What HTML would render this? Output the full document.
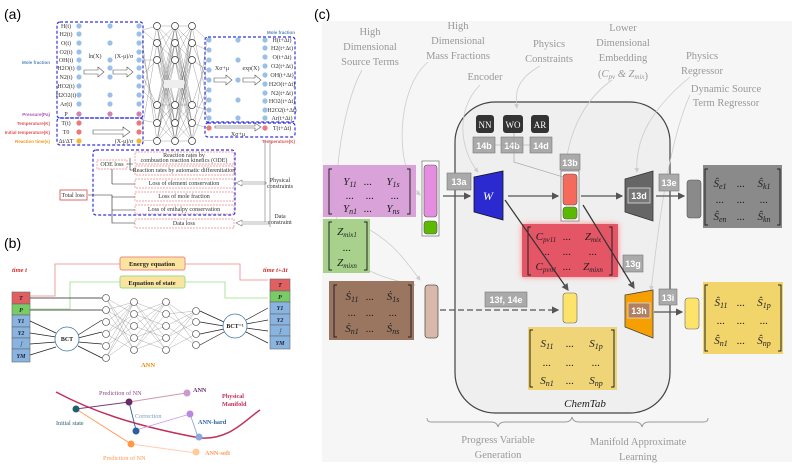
<!DOCTYPE html>
<html><head><meta charset="utf-8"><style>
html,body{margin:0;padding:0;background:#fff;}
svg{display:block;font-family:"Liberation Serif",serif;}
.g{fill:#999;font-size:10.5px;text-anchor:middle;}
.lb{fill:#fff;font-family:"Liberation Sans",sans-serif;font-weight:bold;font-size:9px;text-anchor:middle;}
.m{font-size:11px;font-style:italic;fill:#222;text-anchor:middle;}
.t{font-size:6px;fill:#333;text-anchor:middle;}
</style></head><body>
<svg width="793" height="467" viewBox="0 0 793 467" xmlns="http://www.w3.org/2000/svg">
<defs>
<marker id="ar" markerWidth="6" markerHeight="6" refX="5" refY="3" orient="auto"><path d="M0,0L6,3L0,6z" fill="#555"/></marker>
<marker id="ag" markerWidth="6" markerHeight="6" refX="5" refY="3" orient="auto"><path d="M0,0L6,3L0,6z" fill="#ccc"/></marker>
</defs>
<!-- ================= (a) ================= -->
<text x="4" y="19" font-family="Liberation Sans" font-size="14">(a)</text>
<g fill="none" stroke="#33d" stroke-width="1.2" stroke-dasharray="3,2">
<rect x="57" y="22" width="86" height="96" rx="3"/>
<rect x="57" y="118" width="86" height="27" rx="3"/>
<rect x="205" y="37" width="90" height="85" rx="3"/>
<rect x="205" y="123" width="90" height="14" rx="3"/>
<rect x="93" y="150" width="142" height="65" rx="3"/>
</g>
<g fill="#9bc0e8">
<circle cx="79" cy="26" r="2.6"/><circle cx="79" cy="34" r="2.6"/><circle cx="79" cy="43" r="2.6"/><circle cx="79" cy="52" r="2.6"/><circle cx="79" cy="60" r="2.6"/><circle cx="79" cy="68" r="2.6"/><circle cx="79" cy="77" r="2.6"/><circle cx="79" cy="86" r="2.6"/><circle cx="79" cy="95" r="2.6"/><circle cx="79" cy="104" r="2.6"/>
<circle cx="110" cy="26" r="2.6"/><circle cx="110" cy="43" r="2.6"/><circle cx="110" cy="60" r="2.6"/><circle cx="110" cy="77" r="2.6"/><circle cx="110" cy="95" r="2.6"/><circle cx="110" cy="104" r="2.6"/><circle cx="110" cy="68" r="2.6"/>
<circle cx="139" cy="26" r="2.6"/><circle cx="139" cy="34" r="2.6"/><circle cx="139" cy="43" r="2.6"/><circle cx="139" cy="52" r="2.6"/><circle cx="139" cy="60" r="2.6"/><circle cx="139" cy="68" r="2.6"/><circle cx="139" cy="77" r="2.6"/><circle cx="139" cy="86" r="2.6"/><circle cx="139" cy="95" r="2.6"/><circle cx="139" cy="104" r="2.6"/>
<circle cx="209" cy="40" r="2.6"/><circle cx="209" cy="50" r="2.6"/><circle cx="209" cy="60" r="2.6"/><circle cx="209" cy="70" r="2.6"/><circle cx="209" cy="80" r="2.6"/><circle cx="209" cy="90" r="2.6"/><circle cx="209" cy="100" r="2.6"/><circle cx="209" cy="110" r="2.6"/><circle cx="209" cy="118" r="2.6"/>
<circle cx="238" cy="40" r="2.6"/><circle cx="238" cy="60" r="2.6"/><circle cx="238" cy="80" r="2.6"/><circle cx="238" cy="100" r="2.6"/><circle cx="238" cy="118" r="2.6"/>
<circle cx="265" cy="40" r="2.6"/><circle cx="265" cy="48" r="2.6"/><circle cx="265" cy="57" r="2.6"/><circle cx="265" cy="66" r="2.6"/><circle cx="265" cy="75" r="2.6"/><circle cx="265" cy="84" r="2.6"/><circle cx="265" cy="93" r="2.6"/><circle cx="265" cy="101" r="2.6"/><circle cx="265" cy="110" r="2.6"/><circle cx="265" cy="118" r="2.6"/>
</g>
<g fill="#c8a"><circle cx="79" cy="114" r="2.6"/><circle cx="110" cy="114" r="2.6"/><circle cx="139" cy="114" r="2.6"/></g>
<g fill="#e77"><circle cx="79" cy="123" r="2.6"/><circle cx="79" cy="132" r="2.6"/><circle cx="139" cy="123" r="2.6"/><circle cx="139" cy="132" r="2.6"/><circle cx="209" cy="128" r="2.6"/><circle cx="265" cy="128" r="2.6"/></g>
<g fill="#eb3"><circle cx="79" cy="141" r="2.6"/><circle cx="139" cy="141" r="2.6"/></g>
<g class="t" font-size="5">
<text x="66" y="28">H(t)</text><text x="66" y="36">H2(t)</text><text x="66" y="45">O(t)</text><text x="66" y="54">O2(t)</text><text x="66" y="62">OH(t)</text><text x="66" y="70">H2O(t)</text><text x="66" y="79">N2(t)</text><text x="66" y="88">HO2(t)</text><text x="66" y="97">H2O2(t)</text><text x="66" y="106">Ar(t)</text><text x="66" y="116">P</text><text x="66" y="125">T(t)</text><text x="66" y="134">T0</text><text x="66" y="143">Δt/ΔT</text>
<text x="282" y="42">H(t+Δt)</text><text x="282" y="50">H2(t+Δt)</text><text x="282" y="59">O(t+Δt)</text><text x="282" y="68">O2(t+Δt)</text><text x="282" y="77">OH(t+Δt)</text><text x="282" y="86">H2O(t+Δt)</text><text x="282" y="95">N2(t+Δt)</text><text x="282" y="103">HO2(t+Δt)</text><text x="282" y="112">H2O2(t+Δt)</text><text x="282" y="120">Ar(t+Δt)</text><text x="282" y="130">T(t+Δt)</text>
<text x="95" y="58">ln(X)</text><text x="124" y="58">(X-μ)/σ</text><text x="222" y="70">Xσ+μ</text><text x="251" y="70">exp(X)</text><text x="124" y="143">(X-μ)/σ</text><text x="238" y="136">Xσ+μ</text>
</g>
<g font-size="4.5" font-family="Liberation Sans" font-weight="bold" text-anchor="end">
<text x="50" y="64" fill="#58b">Mole fraction</text><text x="50" y="116" fill="#a5b">Pressure(Pa)</text><text x="50" y="125" fill="#d55">Temperature(K)</text><text x="50" y="134" fill="#d55">Initial temperature(K)</text><text x="50" y="143" fill="#e92">Reaction time(s)</text>
<text x="295" y="34" fill="#58b">Mole fraction</text><text x="295" y="143" fill="#d55">Temperature(K)</text></g>
<g fill="none" stroke="#555" stroke-width="0.6"><path d="M84,70h14v-3l6,5l-6,5v-3h-14z M113,70h14v-3l6,5l-6,5v-3h-14z M93,130h30v-3l7,5l-7,5v-3h-30z M214,78h12v-3l6,5l-6,5v-3h-12z M243,78h12v-3l6,5l-6,5v-3h-12z M215,126h40v-3l6,4l-6,4v-3h-40z"/></g>
<!-- NN mesh -->
<g stroke="#666" stroke-width="0.3">
<path d="M142,30L157,26M142,30L157,43M142,60L157,60M142,90L157,105M142,120L157,123M142,140L157,141M142,50L157,123M142,100L157,26M142,40L157,141M142,130L157,43M142,75L157,60M142,75L157,105"/>
<path d="M157,26L175,43M157,26L175,105M157,43L175,26M157,43L175,141M157,60L175,123M157,105L175,26M157,123L175,60M157,141L175,43M157,60L175,105M157,141L175,141M157,26L175,26M157,105L175,105M157,26L175,60M157,26L175,123M157,26L175,141M157,43L175,60M157,43L175,105M157,43L175,123M157,60L175,26M157,60L175,141M157,105L175,43M157,105L175,60M157,105L175,123M157,105L175,141M157,123L175,26M157,123L175,43M157,123L175,105M157,123L175,141M157,141L175,26M157,141L175,60M157,141L175,105M157,141L175,123"/>
<path d="M175,26L192,43M175,26L192,105M175,43L192,26M175,43L192,141M175,60L192,123M175,105L192,26M175,123L192,60M175,141L192,43M175,60L192,105M175,141L192,141M175,26L192,26M175,105L192,105M175,26L192,60M175,26L192,123M175,26L192,141M175,43L192,60M175,43L192,105M175,43L192,123M175,60L192,26M175,60L192,141M175,105L192,43M175,105L192,60M175,105L192,123M175,105L192,141M175,123L192,26M175,123L192,43M175,123L192,105M175,123L192,141M175,141L192,26M175,141L192,60M175,141L192,105M175,141L192,123"/>
<path d="M192,26L207,40M192,43L207,80M192,60L207,118M192,105L207,60M192,123L207,128M192,141L207,100M192,26L207,100M192,43L207,50M192,60L207,70M192,105L207,110M192,123L207,90M192,141L207,40"/>
</g>
<g fill="#fff" stroke="#333" stroke-width="0.7">
<circle cx="157" cy="26" r="3.5"/><circle cx="157" cy="43" r="3.5"/><circle cx="157" cy="60" r="3.5"/><circle cx="157" cy="105" r="3.5"/><circle cx="157" cy="123" r="3.5"/><circle cx="157" cy="141" r="3.5"/>
<circle cx="175" cy="26" r="3.5"/><circle cx="175" cy="43" r="3.5"/><circle cx="175" cy="60" r="3.5"/><circle cx="175" cy="105" r="3.5"/><circle cx="175" cy="123" r="3.5"/><circle cx="175" cy="141" r="3.5"/>
<circle cx="192" cy="26" r="3.5"/><circle cx="192" cy="43" r="3.5"/><circle cx="192" cy="60" r="3.5"/><circle cx="192" cy="105" r="3.5"/><circle cx="192" cy="123" r="3.5"/><circle cx="192" cy="141" r="3.5"/>
</g>
<rect x="164" y="80" width="20" height="8" fill="#eee"/>
<!-- loss -->
<g fill="none" stroke="#e88" stroke-width="0.7" stroke-dasharray="2,1">
<rect x="97" y="160" width="30" height="9"/><rect x="135" y="152" width="99" height="12"/><rect x="135" y="166" width="99" height="9"/><rect x="135" y="179" width="99" height="9"/><rect x="135" y="192" width="99" height="9"/><rect x="135" y="205" width="99" height="9"/><rect x="135" y="219" width="99" height="9"/>
</g>
<rect x="60" y="190" width="27" height="10" fill="#fff" stroke="#d44" stroke-width="0.8"/>
<g class="t" font-size="5"><text x="73" y="197">Total loss</text><text x="112" y="166">ODE loss</text><text x="184" y="157">Reaction rates by</text><text x="184" y="162">combustion reaction kinetics (ODE)</text><text x="184" y="172">Reaction rates by automatic differentiation</text><text x="184" y="185">Loss of element conservation</text><text x="184" y="198">Loss of mole fraction</text><text x="184" y="211">Loss of enthalpy conservation</text><text x="184" y="225">Data loss</text><text x="280" y="182">Physical</text><text x="280" y="188">constraints</text><text x="280" y="218">Data</text><text x="280" y="224">constraint</text></g>
<g fill="none" stroke="#222" stroke-width="0.6"><path d="M88,195H112V223H135M112,184H135M112,197H135M112,210H135M112,169V184M127,164H133M130,158V170H135"/>
<path d="M265,140V222M270,140V227M236,183l6,-3v2h24v2h-24v2z M236,223l6,-3v2h28v2h-28v2z" stroke="#777"/></g>
<!-- ================= (b) ================= -->
<text x="4" y="248" font-family="Liberation Sans" font-size="14">(b)</text>
<g font-size="6.5" font-weight="bold" font-style="italic" fill="#c33"><text x="12" y="272">time t</text><text x="263" y="272">time t+Δt</text></g>
<g stroke="#666" stroke-width="0.6">
<rect x="12" y="292" width="18" height="12" fill="#e06060"/><rect x="12" y="304" width="18" height="11" fill="#7c6"/>
<rect x="12" y="315" width="18" height="12" fill="#8ab4e0"/><rect x="12" y="327" width="18" height="11" fill="#8ab4e0"/><rect x="12" y="338" width="18" height="11" fill="#8ab4e0"/><rect x="12" y="349" width="18" height="13" fill="#8ab4e0"/>
<rect x="270" y="279" width="20" height="12" fill="#e06060"/><rect x="270" y="291" width="20" height="11" fill="#7c6"/>
<rect x="270" y="302" width="20" height="12" fill="#8ab4e0"/><rect x="270" y="314" width="20" height="11" fill="#8ab4e0"/><rect x="270" y="325" width="20" height="11" fill="#8ab4e0"/><rect x="270" y="336" width="20" height="13" fill="#8ab4e0"/>
</g>
<g font-size="6" font-weight="bold" font-style="italic" text-anchor="middle" fill="#223"><text x="21" y="300">T</text><text x="21" y="312">P</text><text x="21" y="323">Y1</text><text x="21" y="335">Y2</text><text x="21" y="346">⋮</text><text x="21" y="358">YM</text>
<text x="280" y="287">T</text><text x="280" y="299">P</text><text x="280" y="310">Y1</text><text x="280" y="322">Y2</text><text x="280" y="333">⋮</text><text x="280" y="345">YM</text></g>
<g fill="none" stroke-width="0.8"><path d="M30,296H55V264H120M185,264H240V280H268" stroke="#e88"/><path d="M30,309H70V282H120M185,282H225V298H268" stroke="#9d8"/></g>
<rect x="120" y="257" width="65" height="13" rx="2" fill="#fbe3a0" stroke="#e88"/><rect x="120" y="276" width="65" height="12" rx="2" fill="#fbe3a0" stroke="#9d8"/>
<g font-size="6.5" font-weight="bold" text-anchor="middle" fill="#222"><text x="152" y="266">Energy equation</text><text x="152" y="285">Equation of state</text></g>
<g stroke="#222" stroke-width="0.7" fill="none"><path d="M30,298H102M30,310H102M30,321L56,333M30,333L56,337M30,344L56,342M30,355L56,347M78,335L102,320M78,338L102,332M78,342L102,344M78,346L102,358M200,311L224,322M200,322L224,326M200,334L224,329M200,345L224,332M246,320L268,308M246,324L268,320M246,328L268,331M246,332L268,343"/></g>
<g stroke="#777" stroke-width="0.3"><path d="M106,298L134,314M106,298L134,338M106,298L134,350M106,310L134,302M106,310L134,326M106,310L134,350M106,322L134,302M106,322L134,338M106,334L134,302M106,334L134,314M106,334L134,350M106,346L134,302M106,346L134,326M106,358L134,302M106,358L134,314M106,358L134,338M134,302L166,314M134,302L166,338M134,302L166,350M134,314L166,302M134,314L166,326M134,314L166,350M134,326L166,302M134,326L166,338M134,338L166,302M134,338L166,326M134,338L166,350M134,350L166,302M134,350L166,314M134,350L166,338M166,302L196,322M166,302L196,345M166,314L196,334M166,314L196,311M166,326L196,311M166,326L196,345M166,338L196,311M166,338L196,322M166,350L196,311M166,350L196,334"/></g>
<g fill="#fff" stroke="#333" stroke-width="0.6">
<circle cx="106" cy="298" r="3.5"/><circle cx="106" cy="310" r="3.5"/><circle cx="106" cy="322" r="3.5"/><circle cx="106" cy="334" r="3.5"/><circle cx="106" cy="346" r="3.5"/><circle cx="106" cy="358" r="3.5"/>
<circle cx="134" cy="302" r="3.5"/><circle cx="134" cy="314" r="3.5"/><circle cx="134" cy="326" r="3.5"/><circle cx="134" cy="338" r="3.5"/><circle cx="134" cy="350" r="3.5"/>
<circle cx="166" cy="302" r="3.5"/><circle cx="166" cy="314" r="3.5"/><circle cx="166" cy="326" r="3.5"/><circle cx="166" cy="338" r="3.5"/><circle cx="166" cy="350" r="3.5"/>
<circle cx="196" cy="311" r="3.5"/><circle cx="196" cy="322" r="3.5"/><circle cx="196" cy="334" r="3.5"/><circle cx="196" cy="345" r="3.5"/>
<circle cx="67" cy="339" r="12" stroke="#47a" stroke-width="0.8"/><circle cx="235" cy="326" r="12" stroke="#47a" stroke-width="0.8"/></g>
<g font-size="6" font-weight="bold" text-anchor="middle" fill="#222"><text x="67" y="341">BCT</text><text x="235" y="328">BCT⁻¹</text></g>
<text x="148" y="367" font-size="6.5" font-weight="bold" fill="#e80" text-anchor="middle">ANN</text>
<!-- manifold -->
<path d="M56,392C90,410 130,425 200,438C230,440 245,420 260,410" fill="none" stroke="#c2305a" stroke-width="1.5"/>
<g stroke-width="0.9" fill="none"><path d="M76,409L129,402" stroke="#7a3a7a"/><path d="M129,402L186,393" stroke="#c9a"/><path d="M129,402L136,430" stroke="#2c5fa0"/><path d="M136,430L190,414" stroke="#c9e"/><path d="M190,414L198,437" stroke="#8ad"/><path d="M76,409L131,444" stroke="#f95"/><path d="M131,444L196,453" stroke="#fcb"/></g>
<circle cx="76" cy="409" r="3.5" fill="#1f5f6e"/><circle cx="129" cy="402" r="3.5" fill="#6a2a6a"/><circle cx="187" cy="393" r="3.5" fill="#c9c"/><circle cx="136" cy="431" r="3.5" fill="#2c5fa0"/><circle cx="190" cy="414" r="3.5" fill="#b8d"/><circle cx="199" cy="437" r="3.5" fill="#8ad"/><circle cx="131" cy="444" r="3.5" fill="#f94"/><circle cx="196" cy="452" r="3.5" fill="#fc9"/>
<g font-size="6.2"><text x="99" y="395" fill="#8a4a8a">Prediction of NN</text><text x="193" y="392" fill="#6a2a6a" font-weight="bold">ANN</text><text x="222" y="398" fill="#c2305a" font-weight="bold">Physical</text><text x="222" y="406" fill="#c2305a" font-weight="bold">Manifold</text><text x="135" y="418" fill="#7a9ac0">Correction</text><text x="198" y="424" fill="#2c5fa0" font-weight="bold">ANN-hard</text><text x="56" y="425" fill="#2c6070">Initial state</text><text x="103" y="460" fill="#f95">Prediction of NN</text><text x="205" y="455" fill="#f95" font-weight="bold">ANN-soft</text></g>
<!-- ================= (c) ================= -->
<text x="314" y="19" font-family="Liberation Sans" font-size="14">(c)</text>
<rect x="322" y="21" width="470" height="441" fill="#f6f6f6"/>
<rect x="455" y="102" width="215" height="311" rx="40" fill="#efefef" stroke="#444" stroke-width="1.2"/>
<g class="g">
<text x="370" y="35">High</text><text x="370" y="50">Dimensional</text><text x="370" y="65">Source Terms</text>
<text x="458" y="29">High</text><text x="458" y="44">Dimensional</text><text x="458" y="59">Mass Fractions</text>
<text x="485" y="80">Encoder</text>
<text x="549" y="47">Physics</text><text x="549" y="62">Constraints</text>
<text x="623" y="31">Lower</text><text x="623" y="46">Dimensional</text><text x="623" y="61">Embedding</text><text x="623" y="77">(<tspan font-style="italic">C<tspan font-size="7" dy="2">pv</tspan><tspan dy="-2"> &amp; Z</tspan><tspan font-size="7" dy="2">mix</tspan></tspan>)</text>
<text x="702" y="59">Physics</text><text x="702" y="74">Regressor</text>
<text x="726" y="92">Dynamic Source</text><text x="726" y="106">Term Regressor</text>
<text x="498" y="443">Progress Variable</text><text x="498" y="458">Generation</text>
<text x="638" y="445">Manifold Approximate</text><text x="638" y="460">Learning</text>
</g>
<g fill="none" stroke="#ccc" stroke-width="0.8">
<path d="M362,70C340,110 330,200 340,240C350,270 390,280 415,285" marker-end="url(#ag)"/>
<path d="M428,62C395,90 395,170 420,195" marker-end="url(#ag)"/>
<path d="M480,85C455,110 460,150 478,172" marker-end="url(#ag)"/>
<path d="M540,66C515,80 515,95 517,108" marker-end="url(#ag)"/>
<path d="M612,80C570,110 565,160 565,180"/>
<path d="M690,77C650,110 635,140 637,172" marker-end="url(#ag)"/>
<path d="M690,95C665,150 655,260 651,290" marker-end="url(#ag)"/>
<path d="M370,230C395,245 405,260 420,280" marker-end="url(#ag)"/>
</g>
<rect x="323" y="165" width="93" height="52" fill="#d9a3d9"/>
<rect x="323" y="219" width="47" height="54" fill="#a8d28c"/>
<rect x="329" y="281" width="85" height="59" fill="#9a7560"/>
<rect x="522" y="224" width="96" height="53" fill="#e45566" style="filter:drop-shadow(0 0 3px #f88)"/>
<rect x="528" y="327" width="89" height="63" fill="#f0d578"/>
<rect x="703" y="165" width="79" height="63" fill="#8a8a8a"/>
<rect x="703" y="282" width="80" height="72" fill="#f2d56a"/>
<g fill="none" stroke="#222" stroke-width="1">
<path d="M332,169h-3v45h3M407,169h3v45h-3"/><path d="M332,222h-3v48h3M364,222h3v48h-3"/><path d="M337,285h-3v52h3M408,285h3v52h-3"/>
<path d="M531,227h-3v48h3M609,227h3v48h-3"/><path d="M533,330h-3v57h3M611,330h3v57h-3"/>
<path d="M708,169h-3v56h3M777,169h3v56h-3"/><path d="M708,285h-3v66h3M778,285h3v66h-3"/>
</g>
<g class="m"><text x="350" y="185">Y<tspan font-size="8" dy="2">11</tspan></text><text x="368" y="185">...</text><text x="393" y="185">Y<tspan font-size="8" dy="2">1s</tspan></text>
<text x="350" y="199">...</text><text x="370" y="199">...</text><text x="395" y="199">...</text>
<text x="350" y="212">Y<tspan font-size="8" dy="2">n1</tspan></text><text x="368" y="212">...</text><text x="393" y="212">Y<tspan font-size="8" dy="2">ns</tspan></text>
<text x="347" y="235">Z<tspan font-size="7" dy="2">mix1</tspan></text><text x="347" y="251">...</text><text x="347" y="266">Z<tspan font-size="7" dy="2">mixn</tspan></text>
<text x="352" y="300">Ṡ<tspan font-size="8" dy="2">11</tspan></text><text x="370" y="300">...</text><text x="393" y="300">Ṡ<tspan font-size="8" dy="2">1s</tspan></text>
<text x="352" y="316">...</text><text x="370" y="316">...</text><text x="393" y="316">...</text>
<text x="352" y="332">Ṡ<tspan font-size="8" dy="2">n1</tspan></text><text x="370" y="332">...</text><text x="393" y="332">Ṡ<tspan font-size="8" dy="2">ns</tspan></text>
<text x="546" y="240">C<tspan font-size="7" dy="2">pv11</tspan></text><text x="567" y="240">...</text><text x="593" y="240">Z<tspan font-size="7" dy="2">mix</tspan></text>
<text x="546" y="255">...</text><text x="567" y="255">...</text><text x="593" y="255">...</text>
<text x="546" y="270">C<tspan font-size="7" dy="2">pvn1</tspan></text><text x="567" y="270">...</text><text x="593" y="270">Z<tspan font-size="7" dy="2">mixn</tspan></text>
<text x="547" y="347">S<tspan font-size="8" dy="2">11</tspan></text><text x="570" y="347">...</text><text x="596" y="347">S<tspan font-size="8" dy="2">1p</tspan></text>
<text x="547" y="366">...</text><text x="570" y="366">...</text><text x="596" y="366">...</text>
<text x="547" y="384">S<tspan font-size="8" dy="2">n1</tspan></text><text x="570" y="384">...</text><text x="596" y="384">S<tspan font-size="8" dy="2">np</tspan></text>
<text x="720" y="187">Ŝ<tspan font-size="8" dy="2">e1</tspan></text><text x="741" y="187">...</text><text x="764" y="187">Ŝ<tspan font-size="8" dy="2">k1</tspan></text>
<text x="720" y="203">...</text><text x="741" y="203">...</text><text x="764" y="203">...</text>
<text x="720" y="220">Ŝ<tspan font-size="8" dy="2">en</tspan></text><text x="741" y="220">...</text><text x="764" y="220">Ŝ<tspan font-size="8" dy="2">kn</tspan></text>
<text x="721" y="306">Ŝ<tspan font-size="8" dy="2">11</tspan></text><text x="741" y="306">...</text><text x="764" y="306">Ŝ<tspan font-size="8" dy="2">1p</tspan></text>
<text x="721" y="324">...</text><text x="741" y="324">...</text><text x="764" y="324">...</text>
<text x="721" y="344">Ŝ<tspan font-size="8" dy="2">n1</tspan></text><text x="741" y="344">...</text><text x="764" y="344">Ŝ<tspan font-size="8" dy="2">np</tspan></text>
<text x="585" y="407" font-size="11">ChemTab</text>
</g>
<rect x="422" y="161" width="17" height="75" fill="#fff" stroke="#555" stroke-width="0.6"/>
<rect x="424" y="165" width="13" height="52" rx="3" fill="#e58ee0" stroke="#555" stroke-width="0.6"/>
<rect x="424" y="221" width="13" height="13" rx="3" fill="#5cb800" stroke="#555" stroke-width="0.6"/>
<rect x="425" y="285" width="13" height="53" rx="3" fill="#d8b8a8" stroke="#555" stroke-width="0.8"/>
<rect x="561" y="171" width="18" height="50" fill="#fff" stroke="#555" stroke-width="0.6"/>
<rect x="563" y="174" width="14" height="31" rx="3" fill="#f56a5a" stroke="#555" stroke-width="0.6"/>
<rect x="563" y="207" width="14" height="12" rx="3" fill="#5cb800" stroke="#555" stroke-width="0.6"/>
<rect x="687" y="180" width="14" height="38" rx="3" fill="#8a8a8a" stroke="#555" stroke-width="0.6"/>
<rect x="563" y="293" width="14" height="30" rx="3" fill="#fde36a" stroke="#666" stroke-width="0.6"/>
<rect x="685" y="298" width="14" height="31" rx="3" fill="#fde36a" stroke="#666" stroke-width="0.6"/>
<path d="M474,177L503,171V220L474,212z" fill="#2a2ad0" stroke="#111" stroke-width="0.8"/>
<text x="488" y="200" font-size="12" font-style="italic" fill="#fff" text-anchor="middle">W</text>
<path d="M625,179L653,171V221L625,212z" fill="#666" stroke="#333" stroke-width="0.8"/>
<path d="M625,295L653,290V338L625,327z" fill="#f59f00" stroke="#444" stroke-width="0.8"/>
<rect x="628" y="188" width="22" height="15" fill="#777" stroke="#ddd" stroke-width="0.8"/>
<rect x="628" y="303" width="22" height="15" fill="#b08060" stroke="#ddd" stroke-width="0.8"/>
<rect x="476" y="115" width="18" height="18" rx="3" fill="#333"/><rect x="503" y="115" width="20" height="18" rx="3" fill="#333"/><rect x="531" y="115" width="18" height="18" rx="3" fill="#333"/>
<g font-size="9" fill="#fff" text-anchor="middle"><text x="485" y="128">NN</text><text x="513" y="128">WO</text><text x="540" y="128">AR</text></g>
<g fill="#aaa" stroke="#777" stroke-width="0.6">
<rect x="473" y="137" width="22" height="16"/><rect x="501" y="137" width="22" height="16"/><rect x="530" y="137" width="22" height="16"/>
<rect x="560" y="154" width="20" height="16"/><rect x="447" y="173" width="24" height="17"/><rect x="659" y="174" width="20" height="17"/>
<rect x="623" y="255" width="20" height="17"/><rect x="659" y="289" width="18" height="16"/><rect x="485" y="292" width="42" height="15"/>
</g>
<g class="lb"><text x="484" y="149">14b</text><text x="512" y="149">14b</text><text x="541" y="149">14d</text><text x="570" y="166">13b</text><text x="459" y="185">13a</text><text x="669" y="186">13e</text><text x="639" y="199">13d</text><text x="633" y="267">13g</text><text x="668" y="301">13i</text><text x="506" y="303">13f, 14e</text><text x="639" y="314">13h</text></g>
<g fill="none" stroke="#555" stroke-width="1.2">
<path d="M443,196H470" marker-end="url(#ar)"/>
<path d="M508,196H558" marker-end="url(#ar)"/>
<path d="M581,196H622" marker-end="url(#ar)"/>
<path d="M656,196H684" marker-end="url(#ar)"/>
<path d="M654,312H682" marker-end="url(#ar)"/>
<path d="M505,200L568,290" marker-end="url(#ar)" stroke="#333"/>
<path d="M583,205L634,288" marker-end="url(#ar)" stroke="#333"/>
<path d="M440,310H558" stroke-dasharray="6,3" marker-end="url(#ar)"/>
</g>
<path d="M514,133V162L573,180" fill="none" stroke="#999" stroke-width="0.6"/>
<path d="M494,145H530" fill="none" stroke="#999" stroke-width="0.6"/>
<path d="M427,418q0,4 4,4h60q6,0 7,5q1,-5 7,-5h60q6,0 7,-5q1,5 7,5h56q6,0 7,5q1,-5 7,-5h55q4,0 4,-4" fill="none" stroke="#999" stroke-width="0.9"/>
</svg>
</body></html>
